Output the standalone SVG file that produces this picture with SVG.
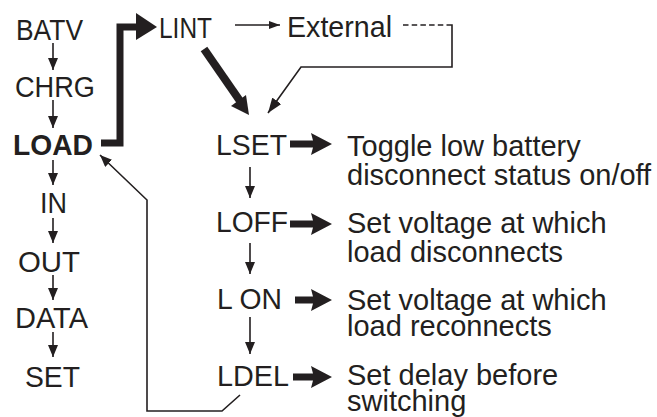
<svg xmlns="http://www.w3.org/2000/svg" width="657" height="417" viewBox="0 0 657 417">
<defs>
<style>
.t{font-family:"Liberation Sans",Arial,Helvetica,sans-serif;font-size:30px;fill:#231f20}
.d{font-family:"Liberation Sans",Arial,Helvetica,sans-serif;font-size:29px;fill:#231f20}
.b{font-weight:bold}
.thin{fill:none;stroke:#231f20;stroke-width:1.6}
.thick{fill:none;stroke:#231f20;stroke-width:7}
.blk{fill:#231f20}
</style>
<marker id="ah" markerUnits="userSpaceOnUse" markerWidth="12" markerHeight="10" refX="12" refY="5" orient="auto"><path d="M0,0 L12,5 L0,10 z" fill="#231f20"/></marker>
<marker id="ahs" markerUnits="userSpaceOnUse" markerWidth="11" markerHeight="8" refX="11" refY="4" orient="auto"><path d="M0,0 L11,4 L0,8 z" fill="#231f20"/></marker>
<marker id="ahm" markerUnits="userSpaceOnUse" markerWidth="15" markerHeight="11" refX="15" refY="5.5" orient="auto"><path d="M0,0 L15,5.5 L0,11 z" fill="#231f20"/></marker>
</defs>

<g id="connectors">
<!-- left column -->
<line class="thin" x1="53" y1="43" x2="53" y2="70" marker-end="url(#ah)"/>
<line class="thin" x1="53" y1="100" x2="53" y2="128" marker-end="url(#ah)"/>
<line class="thin" x1="53" y1="160" x2="53" y2="185" marker-end="url(#ah)"/>
<line class="thin" x1="53" y1="218" x2="53" y2="243" marker-end="url(#ah)"/>
<line class="thin" x1="53" y1="275" x2="53" y2="300" marker-end="url(#ah)"/>
<line class="thin" x1="53" y1="332" x2="53" y2="357" marker-end="url(#ah)"/>
<!-- right column -->
<line class="thin" x1="250" y1="167" x2="250" y2="198" marker-end="url(#ah)"/>
<line class="thin" x1="250" y1="243" x2="250" y2="274" marker-end="url(#ah)"/>
<line class="thin" x1="250" y1="317" x2="250" y2="354" marker-end="url(#ah)"/>
<!-- LOAD -> LINT thick elbow -->
<path class="thick" d="M101,143 H120 V27 H139"/>
<polygon class="blk" points="136,13 157,27 136,40"/>
<!-- LINT -> LSET thick diagonal -->
<line class="thick" x1="204" y1="49" x2="240" y2="101" style="stroke-width:8"/>
<polygon class="blk" points="231,106 249,115 246,95"/>
<!-- LINT -> External -->
<line class="thin" x1="235" y1="25" x2="280" y2="25" marker-end="url(#ahs)"/>
<!-- External dotted + return to LSET -->
<line class="thin" x1="403" y1="25" x2="447" y2="25" style="stroke-dasharray:5.5 3.2"/>
<path class="thin" d="M447,25 H452 V67 H301 L268,113" marker-end="url(#ahm)"/>
<!-- LDEL -> LOAD feedback -->
<path class="thin" d="M240,395 L222,411 H147 V200 L100,155" marker-end="url(#ah)"/>
<!-- block arrows -->
<polygon class="blk" points="290,140.5 313,140.5 311,133 332,144 311,155 313,147.5 290,147.5"/>
<polygon class="blk" points="290,220.5 313,220.5 311,213 332,224 311,235 313,227.5 290,227.5"/>
<polygon class="blk" points="295,296.5 313,296.5 311,289 332,300 311,311 313,303.5 295,303.5"/>
<polygon class="blk" points="293,373.5 313,373.5 311,366 332,377 311,388 313,380.5 293,380.5"/>
</g>

<g id="batv"><text class="t" x="16" y="40" textLength="67" lengthAdjust="spacingAndGlyphs">BATV</text></g>
<g id="chrg"><text class="t" x="15" y="97" textLength="80" lengthAdjust="spacingAndGlyphs">CHRG</text></g>
<g id="load"><text class="t b" x="13" y="155" textLength="80" lengthAdjust="spacingAndGlyphs">LOAD</text></g>
<g id="in"><text class="t" x="40" y="213" textLength="27" lengthAdjust="spacingAndGlyphs">IN</text></g>
<g id="out"><text class="t" x="18" y="272" textLength="62" lengthAdjust="spacingAndGlyphs">OUT</text></g>
<g id="data"><text class="t" x="15" y="328" textLength="73" lengthAdjust="spacingAndGlyphs">DATA</text></g>
<g id="set"><text class="t" x="25" y="387" textLength="55" lengthAdjust="spacingAndGlyphs">SET</text></g>
<g id="lint"><text class="t" x="159" y="38" textLength="53" lengthAdjust="spacingAndGlyphs">LINT</text></g>
<g id="external"><text class="t" x="287" y="37" textLength="105" lengthAdjust="spacingAndGlyphs">External</text></g>
<g id="lset"><text class="t" x="216" y="155" textLength="71" lengthAdjust="spacingAndGlyphs">LSET</text>
<text class="d" x="347" y="156">Toggle low battery</text>
<text class="d" x="347" y="185">disconnect status on/off</text></g>
<g id="loff"><text class="t" x="216" y="232" textLength="72" lengthAdjust="spacingAndGlyphs">LOFF</text>
<text class="d" x="347" y="233">Set voltage at which</text>
<text class="d" x="347" y="262">load disconnects</text></g>
<g id="lon"><text class="t" x="217" y="309" textLength="65" lengthAdjust="spacingAndGlyphs">L ON</text>
<text class="d" x="347" y="310">Set voltage at which</text>
<text class="d" x="347" y="336">load reconnects</text></g>
<g id="ldel"><text class="t" x="217" y="386" textLength="72" lengthAdjust="spacingAndGlyphs">LDEL</text>
<text class="d" x="347" y="385">Set delay before</text>
<text class="d" x="347" y="411">switching</text></g>
</svg>
